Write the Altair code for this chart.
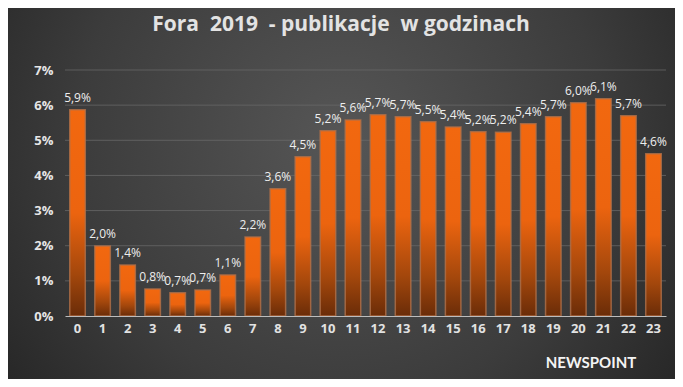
import altair as alt
import pandas as pd

hours = list(range(24))
values = [5.87, 1.99, 1.45, 0.77, 0.66, 0.74, 1.17, 2.25, 3.62, 4.53, 5.27, 5.58,
          5.73, 5.67, 5.53, 5.38, 5.24, 5.23, 5.47, 5.67, 6.07, 6.18, 5.70, 4.62]
labels = ["5,9%", "2,0%", "1,4%", "0,8%", "0,7%", "0,7%", "1,1%", "2,2%", "3,6%", "4,5%",
          "5,2%", "5,6%", "5,7%", "5,7%", "5,5%", "5,4%", "5,2%", "5,2%", "5,4%", "5,7%",
          "6,0%", "6,1%", "5,7%", "4,6%"]
grid_values = [0, 1, 2, 3, 4, 5, 6, 7]
title_text = "Fora\u00a0\u00a02019\u00a0\u00a0-\u00a0publikacje\u00a0\u00a0w\u00a0godzinach"
brand = "NEWSPOINT"

df = pd.DataFrame({"hour": hours, "value": values, "label": labels})
grid_df = pd.DataFrame({"value": grid_values[1:]})

W, H = 601, 246
PL, PT, PR, PB = 57, 62, 9, 63
FONT = "Open Sans"

bg = alt.Chart(alt.Data(values=[{}])).mark_rect(
    fill=alt.Gradient(
        gradient="radial",
        x1=0.5, y1=0.42, r1=0.0,
        x2=0.5, y2=0.42, r2=0.72,
        stops=[alt.GradientStop(color="#565656", offset=0),
               alt.GradientStop(color="#3c3c3c", offset=0.55),
               alt.GradientStop(color="#1e1e1e", offset=1)],
    )
).encode(
    x=alt.value(-PL), x2=alt.value(W + PR),
    y=alt.value(-PT), y2=alt.value(H + PB),
)

y_scale = alt.Scale(domain=[0, 7], nice=False)
y_axis = alt.Axis(values=grid_values, tickCount=8,
                  labelExpr="datum.value + '%'",
                  labelFont=FONT, labelFontSize=13, labelFontWeight="bold",
                  labelColor="#e6e6e6", labelPadding=12, ticks=False,
                  labelOverlap=False, labelFlush=False,
                  domain=False, grid=False, zindex=1)
x_scale = alt.Scale(paddingInner=0.38, paddingOuter=0.19)
x_axis = alt.Axis(labelAngle=0, labelFont=FONT, labelFontSize=13,
                  labelFontWeight="bold", labelColor="#e2e2e2",
                  labelPadding=6, ticks=False, domainColor="#bdbdbd",
                  domainWidth=1.2, grid=False, zindex=1)

x_enc = alt.X("hour:O", title=None, scale=x_scale, axis=x_axis)
y_enc = alt.Y("value:Q", title=None, scale=y_scale, axis=y_axis)

grid = alt.Chart(grid_df).mark_rule(color="#6a6a6a", strokeWidth=1, opacity=0.75).encode(
    y=y_enc, x=alt.value(0), x2=alt.value(W)
)

bars = alt.Chart(df).mark_bar(
    fill=alt.Gradient(
        gradient="linear", x1=0, y1=0, x2=0, y2=1,
        stops=[alt.GradientStop(color="#f2680f", offset=0),
               alt.GradientStop(color="#ec640f", offset=0.5),
               alt.GradientStop(color="#a3470c", offset=0.8),
               alt.GradientStop(color="#6a2c08", offset=1)],
    ),
    stroke="#b0714a", strokeWidth=1.5, strokeOpacity=0.8,
).encode(x=x_enc, y=y_enc)

texts = alt.Chart(df).mark_text(
    baseline="bottom", dy=-5, font=FONT, fontSize=12, color="#eeeeee"
).encode(x=x_enc, y=y_enc, text="label:N")

title = alt.Chart(alt.Data(values=[{"t": title_text}])).mark_text(
    font=FONT, fontSize=21, fontWeight="bold", color="#e3e3e3",
    align="center", baseline="middle"
).encode(x=alt.value(276), y=alt.value(-45), text="t:N")

logo = alt.Chart(alt.Data(values=[{"t": brand}])).mark_text(
    font="Lato", fontSize=15, fontWeight="bold", color="#f4f4f4",
    align="center", baseline="middle"
).encode(x=alt.value(526), y=alt.value(293), text="t:N")

chart = alt.layer(bg, grid, bars, texts, title, logo).properties(
    width=W, height=H,
    padding={"left": PL, "top": PT, "right": PR, "bottom": PB},
    autosize=alt.AutoSizeParams(type="none"),
    background="#2a2a2a",
).configure_view(stroke=None)

chart.save("out.html", embed_options={"renderer": "svg", "actions": False})
